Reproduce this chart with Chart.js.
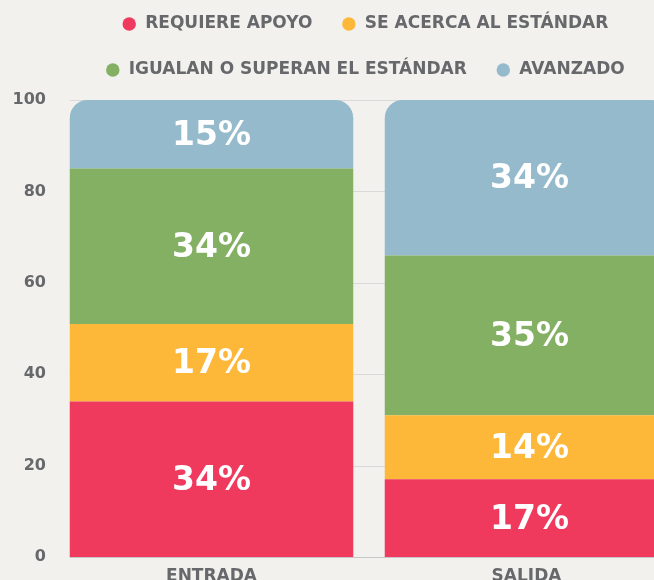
<!DOCTYPE html>
<html><head><meta charset="utf-8">
<script src="https://cdn.jsdelivr.net/npm/chart.js@4"></script>
<style>
html,body{margin:0;padding:0;background:#f2f1ee;overflow:hidden;width:654px;height:580px;}
#wrap{position:relative;width:730px;height:587px;}
canvas{display:block;}
</style></head><body>
<div id="wrap"><canvas id="c" width="730" height="587"></canvas></div>
<script>
const categories = ['ENTRADA', 'SALIDA'];
const seriesNames = ['REQUIERE APOYO', 'SE ACERCA AL ESTÁNDAR', 'IGUALAN O SUPERAN EL ESTÁNDAR', 'AVANZADO'];
const requiereApoyo = [34, 17];
const seAcerca = [17, 14];
const igualan = [34, 35];
const avanzado = [15, 34];
const yTicks = [0, 20, 40, 60, 80, 100];

const colors = ['#ef3a5e', '#fdb83a', '#84b063', '#94bacb'];
const textGray = '#66686b';
const FONT = 'DejaVu Sans';

const seriesData = [requiereApoyo, seAcerca, igualan, avanzado];

const tweak = {
  id: 'tweak',
  beforeInit(chart) {
    const lg = chart.legend;
    const orig = lg.fit;
    lg.fit = function () { orig.call(this); this.height = 100; };
  },
  afterLayout(chart) {
    const lg = chart.legend;
    const h = lg.height;
    lg.left = 0; lg.right = chart.width; lg.width = chart.width;
    lg.top = -13.5; lg.bottom = lg.top + h;
  },
  beforeDatasetsDraw(chart) {
    const ctx = chart.ctx, ys = chart.scales.y;
    const b = chart.getDatasetMeta(0).data[0];
    const x0 = b.x - b.width / 2;
    const x1 = chart.chartArea.right;
    ctx.save();
    ctx.lineWidth = 1;
    ctx.strokeStyle = '#d9d9d9';
    yTicks.forEach(v => {
      if (v === 0) return;
      const y = Math.round(ys.getPixelForValue(v)) + 0.5;
      ctx.beginPath(); ctx.moveTo(x0, y); ctx.lineTo(x1, y); ctx.stroke();
    });
    ctx.restore();
  },
  afterDatasetsDraw(chart) {
    const ctx = chart.ctx, ys = chart.scales.y;
    const b = chart.getDatasetMeta(0).data[0];
    const x0 = b.x - b.width / 2;
    ctx.save();
    ctx.strokeStyle = '#c4c6c8';
    ctx.lineWidth = 1;
    const y = Math.round(ys.getPixelForValue(0)) + 0.5;
    ctx.beginPath(); ctx.moveTo(x0, y); ctx.lineTo(chart.chartArea.right, y); ctx.stroke();
    ctx.fillStyle = '#ffffff';
    ctx.font = 'bold 33px "' + FONT + '"';
    ctx.textAlign = 'center';
    ctx.textBaseline = 'middle';
    chart.data.datasets.forEach((ds, i) => {
      const meta = chart.getDatasetMeta(i);
      meta.data.forEach((bar, j) => {
        ctx.fillText(ds.data[j] + '%', bar.x + j * 3, (bar.y + bar.base) / 2 + 2);
      });
    });
    ctx.restore();
  }
};

const datasets = seriesNames.map((name, i) => ({
  label: name,
  data: seriesData[i],
  backgroundColor: colors[i],
  borderWidth: 0,
  barPercentage: 0.9,
  categoryPercentage: 1.0,
  borderRadius: i === seriesNames.length - 1 ? {topLeft: 18, topRight: 18, bottomLeft: 0, bottomRight: 0} : 0,
  borderSkipped: false
}));

new Chart(document.getElementById('c'), {
  type: 'bar',
  data: { labels: categories, datasets },
  plugins: [tweak],
  options: {
    responsive: false,
    animation: false,
    devicePixelRatio: 1,
    layout: { padding: { left: 0, right: 46, top: 0, bottom: 0 } },
    plugins: {
      legend: {
        position: 'top',
        labels: {
          usePointStyle: true,
          pointStyle: 'circle',
          boxWidth: 15,
          boxHeight: 9.5,
          padding: 29,
          color: textGray,
          font: { family: FONT, weight: 'bold', size: 17 }
        }
      },
      tooltip: { enabled: false }
    },
    scales: {
      x: {
        stacked: true,
        grid: { display: false },
        border: { display: false },
        ticks: { color: textGray, padding: 1, font: { family: FONT, weight: 'bold', size: 17 } },
        afterFit(s) { s.height = 30; }
      },
      y: {
        stacked: true,
        min: 0, max: 100,
        grid: { display: false },
        border: { display: false },
        ticks: { stepSize: 20, color: textGray, padding: 0, font: { family: FONT, weight: 'bold', size: 16 } },
        afterFit(s) { s.width = 54; }
      }
    }
  }
});
</script>
</body></html>
